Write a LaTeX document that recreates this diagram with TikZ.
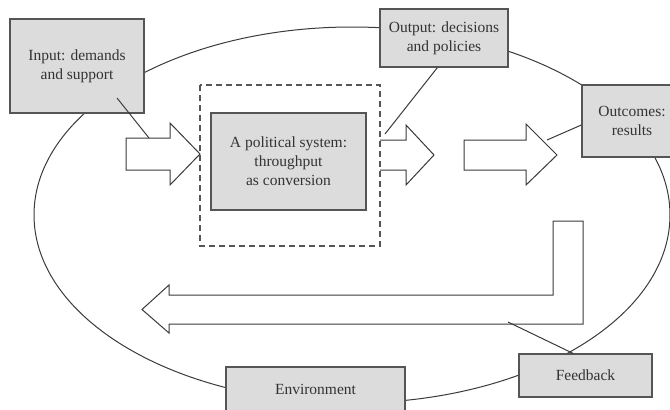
\documentclass[tikz,border=0pt]{standalone}
\usepackage{fontspec}
\setmainfont{Liberation Serif}
\definecolor{boxfill}{HTML}{DCDCDC}
\definecolor{boxline}{HTML}{555555}
\definecolor{ink}{HTML}{3A3A3A}
\definecolor{txt}{HTML}{333333}
\begin{document}
\begin{tikzpicture}[x=1pt,y=-1pt,
  box/.style={draw=boxline, fill=boxfill, line width=1.3pt, inner sep=0pt,
    font=\fontsize{15.5}{19}\selectfont, text=txt, align=center},
  link/.style={draw=ink, line width=1pt},
  bigarrow/.style={draw=ink, fill=white, line width=1pt, line join=miter},
  frame/.style={draw=boxline, line width=1.2pt, dash pattern=on 6pt off 4pt}]
\useasboundingbox (0,0) rectangle (670,410);

% surrounding environment
\draw[link] (352,215) ellipse [x radius=318, y radius=188];

% flow arrows
\draw[bigarrow] (126,138) -- (170,138) -- (170,123) -- (200,154) -- (170,185)
  -- (170,170) -- (126,170) -- cycle;
\draw[bigarrow] (380,140) -- (406,140) -- (406,125) -- (434,155) -- (406,185)
  -- (406,170) -- (380,170);
\draw[bigarrow] (464,140) -- (526,140) -- (526,124) -- (557,155) -- (526,185)
  -- (526,170) -- (464,170) -- cycle;
% feedback arrow
\draw[bigarrow] (583,221) -- (583,324) -- (169,324) -- (169,333) -- (142,309.5)
  -- (169,285) -- (169,295) -- (553,295) -- (553,221) -- cycle;

% boundary of the political system
\draw[frame] (200,85) rectangle (380,246);

% boxes
\node[box, minimum width=134pt, minimum height=94pt] (inp) at (77,66)
  {Input: demands\\and support};
\node[box, minimum width=128pt, minimum height=58pt] (outp) at (444,38)
  {Output: decisions\\and policies};
\node[box, minimum width=100pt, minimum height=72pt] (outc) at (632,121)
  {Outcomes:\\results};
\node[box, minimum width=155pt, minimum height=97pt] (sys) at (288.5,161.5)
  {A political system:\\throughput\\as conversion};
\node[box, minimum width=179pt, minimum height=44pt] (env) at (315.5,389)
  {Environment};
\node[box, minimum width=133pt, minimum height=43pt] (fb) at (585.5,375.5)
  {Feedback};

% connector ends on the arrows
\coordinate (inA) at (117,98);
\coordinate (inB) at (149,138);
\coordinate (outA) at (385,134);
\coordinate (outcA) at (547,140);
\coordinate (fbA) at (508,322);

\draw[link] (inA) -- (inB);
\draw[link] (outp.south west) ++(58,0) coordinate (outB) (outB) -- (outA);
\draw[link] (outc.west |- 0,125) coordinate (outcB) (outcB) -- (outcA);
\draw[link] (fbA) -- (fb.north -| 573,0);
\end{tikzpicture}
\end{document}
